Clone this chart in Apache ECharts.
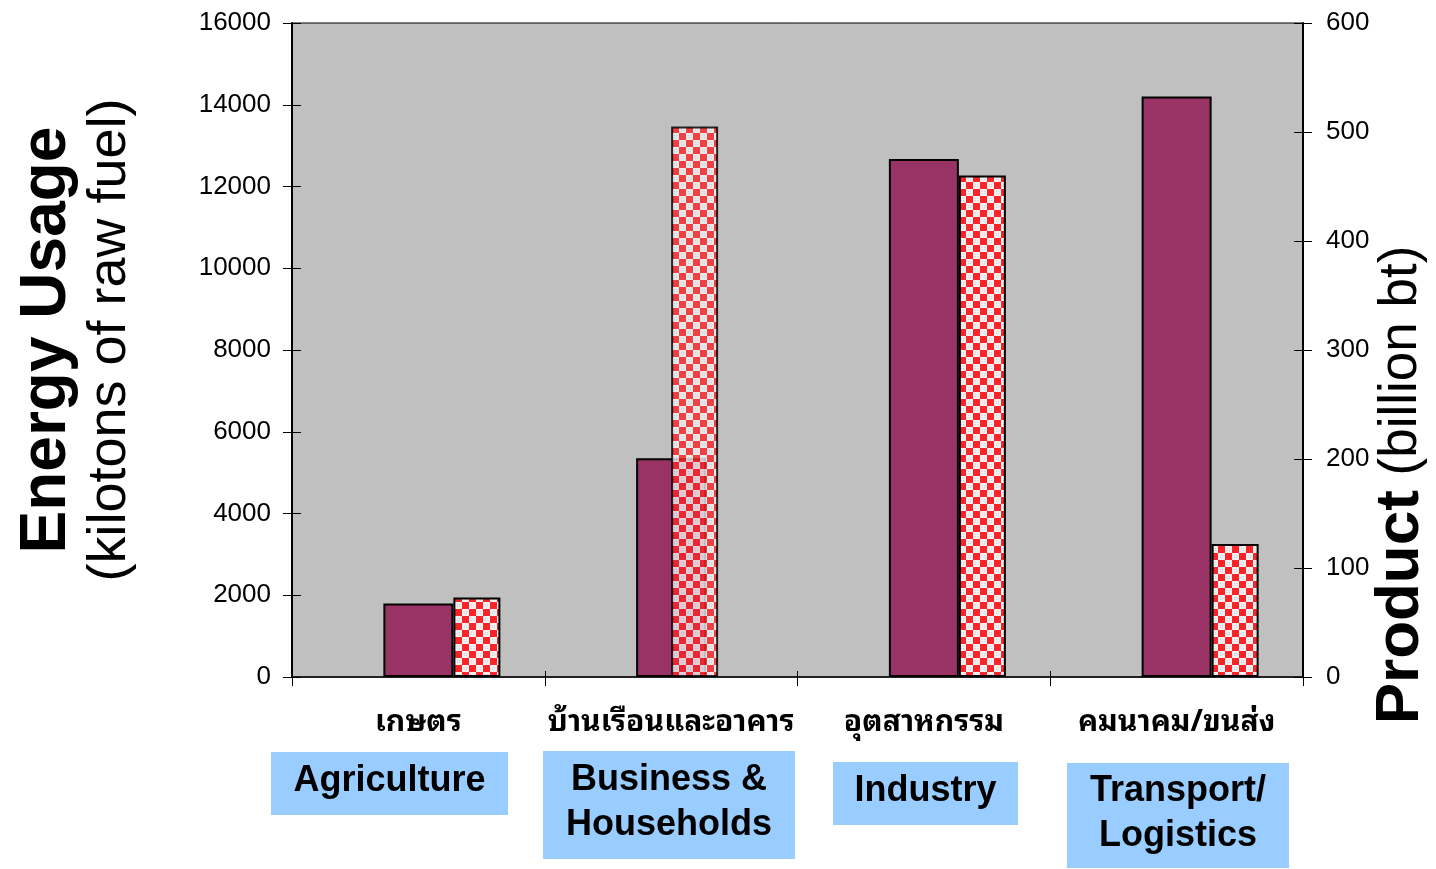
<!DOCTYPE html>
<html>
<head>
<meta charset="utf-8">
<title>Energy Usage and Product by Sector</title>
<script src="https://cdn.jsdelivr.net/npm/echarts@6/dist/echarts.min.js"></script>
<style>
  html, body { margin: 0; padding: 0; background: #ffffff; }
  #chart { width: 1436px; height: 869px; }
</style>
</head>
<body>
<div id="chart"></div>
<script>
// Sector names (Thai axis labels) and their English captions
const sectorsThai = ['เกษตร', 'บ้านเรือนและอาคาร', 'อุตสาหกรรม', 'คมนาคม/ขนส่ง'];
const sectorsEnglish = ['Agriculture', 'Business &\nHouseholds', 'Industry', 'Transport/\nLogistics'];

// Energy usage, kilotons of raw fuel (left axis)
const energyUsage = [1800, 5350, 12670, 14200];
// Product, billion baht (right axis)
const productValue = [73, 505, 460, 122];

// Axis ranges
const energyAxis = { min: 0, max: 16000, interval: 2000 };
const productAxis = { min: 0, max: 600, interval: 100 };

// Sector whose product bar is drawn overlapping its energy bar
const overlapIndex = 1;

// Caption boxes under the axis: [left, top, width, height]
const captionBoxes = [
  [271, 752, 237, 63],
  [543, 751, 252, 108],
  [833, 762, 185, 63],
  [1067, 763, 222, 105]
];

const FONT = '"Liberation Sans", Arial, Helvetica, sans-serif';
const THAI_FONT = '"Noto Sans Thai Looped", "Noto Sans Thai", "Noto Sans Thai UI", Loma, Tahoma, "DejaVu Sans", sans-serif';

function checkerPattern() {
  const c = document.createElement('canvas');
  c.width = 14; c.height = 14;
  const g = c.getContext('2d');
  g.fillStyle = '#f1f1f1';
  g.fillRect(0, 0, 14, 14);
  g.fillStyle = '#d4d4d4';
  for (const [ox, oy] of [[7, 0], [0, 7]]) {
    g.fillRect(ox + 2, oy + 2, 1, 1);
    g.fillRect(ox + 4, oy + 2, 1, 1);
    g.fillRect(ox + 2, oy + 4, 1, 1);
    g.fillRect(ox + 4, oy + 4, 1, 1);
  }
  g.fillStyle = '#fb2428';
  g.fillRect(0, 0, 7, 7);
  g.fillRect(7, 7, 7, 7);
  return c;
}
const checker = { image: checkerPattern(), repeat: 'repeat' };

const blank = sectorsThai.map(() => '-');
const productMain = productValue.map((v, i) => (i === overlapIndex ? '-' : v));
const productOverlap = productValue.map((v, i) => (i === overlapIndex ? v : '-'));

const barBorder = { borderColor: '#000000', borderWidth: 2 };
const plainNumber = (v) => String(v);

const chart = echarts.init(document.getElementById('chart'), null, { renderer: 'canvas' });

const option = {
  animation: false,
  backgroundColor: '#ffffff',
  grid: {
    left: 292, right: 133, top: 23, bottom: 192,
    outerBoundsMode: 'none',
    containLabel: false,
    show: true, backgroundColor: '#c0c0c0', borderColor: '#000000', borderWidth: 1
  },
  xAxis: [
    {
      type: 'category',
      data: sectorsThai,
      axisLine: { lineStyle: { color: '#222222', width: 2 } },
      axisTick: { show: true, length: 9, lineStyle: { color: '#000000', width: 1 } },
      axisLabel: {
        margin: 31,
        color: '#000000',
        fontFamily: THAI_FONT,
        fontWeight: 'bold',
        fontSize: 30,
        interval: 0
      }
    },
    {
      type: 'category',
      data: sectorsThai,
      position: 'bottom',
      axisLine: { show: false },
      axisTick: { show: true, inside: true, length: 6, lineStyle: { color: '#000000', width: 1 } },
      axisLabel: { show: false }
    }
  ],
  yAxis: [
    {
      type: 'value',
      position: 'left',
      min: energyAxis.min, max: energyAxis.max, interval: energyAxis.interval,
      splitLine: { show: false },
      axisLine: { show: true, lineStyle: { color: '#000000', width: 2 } },
      axisTick: { show: true, length: 9, lineStyle: { color: '#000000', width: 1 } },
      axisLabel: { margin: 21, color: '#000000', fontFamily: FONT, fontSize: 26, formatter: plainNumber },
      name: '{b|Energy Usage}\n{r|(kilotons of raw fuel)}',
      nameLocation: 'middle',
      nameRotate: 90,
      nameGap: 152,
      nameMoveOverlap: false,
      nameTextStyle: {
        color: '#000000',
        align: 'center',
        padding: [0, 0, 0, 20],
        rich: {
          b: { fontFamily: FONT, fontWeight: 'bold', fontSize: 64, lineHeight: 66, color: '#000000' },
          r: { fontFamily: FONT, fontSize: 54, lineHeight: 60, color: '#000000' }
        }
      }
    },
    {
      type: 'value',
      position: 'right',
      min: productAxis.min, max: productAxis.max, interval: productAxis.interval,
      splitLine: { show: false },
      axisLine: { show: true, lineStyle: { color: '#000000', width: 2 } },
      axisTick: { show: true, length: 9, lineStyle: { color: '#000000', width: 1 } },
      axisLabel: { margin: 23, color: '#000000', fontFamily: FONT, fontSize: 26, formatter: plainNumber },
      name: '{b|Product}{r|\u00a0(billion bt)}',
      nameLocation: 'middle',
      nameRotate: 90,
      nameGap: 67,
      nameMoveOverlap: false,
      nameTextStyle: {
        color: '#000000',
        padding: [0, 270, 0, 0],
        rich: {
          b: { fontFamily: FONT, fontWeight: 'bold', fontSize: 62, color: '#000000' },
          r: { fontFamily: FONT, fontSize: 53, color: '#000000' }
        }
      }
    },
    {
      type: 'value',
      position: 'left',
      min: energyAxis.min, max: energyAxis.max, interval: energyAxis.interval,
      splitLine: { show: false },
      axisLine: { show: false },
      axisTick: { show: true, inside: true, length: 9, lineStyle: { color: '#000000', width: 1 } },
      axisLabel: { show: false }
    },
    {
      type: 'value',
      position: 'right',
      min: productAxis.min, max: productAxis.max, interval: productAxis.interval,
      splitLine: { show: false },
      axisLine: { show: false },
      axisTick: { show: true, inside: true, length: 9, lineStyle: { color: '#000000', width: 1 } },
      axisLabel: { show: false }
    }
  ],
  series: [
    // empty slot keeps the energy bar centred in its category
    { type: 'bar', xAxisIndex: 0, yAxisIndex: 0, data: blank, barWidth: 47, silent: true },
    {
      name: 'Energy Usage', type: 'bar', xAxisIndex: 0, yAxisIndex: 0,
      data: energyUsage, barWidth: 70,
      itemStyle: Object.assign({ color: '#993366' }, barBorder)
    },
    {
      name: 'Product', type: 'bar', xAxisIndex: 0, yAxisIndex: 1,
      data: productMain, barWidth: 47, barGap: 0,
      itemStyle: Object.assign({ color: checker }, barBorder)
    },
    // product bar of the overlapping sector, laid over the right half of its energy bar
    { type: 'bar', xAxisIndex: 1, yAxisIndex: 1, data: blank, barWidth: 47, silent: true },
    {
      name: 'Product', type: 'bar', xAxisIndex: 1, yAxisIndex: 1,
      data: productOverlap, barWidth: 47, barGap: 0,
      itemStyle: Object.assign({ color: checker, opacity: 0.82 }, barBorder)
    }
  ],
  graphic: sectorsEnglish.map((label, i) => {
    const [x, y, w, h] = captionBoxes[i];
    return {
      type: 'group',
      left: x, top: y,
      children: [
        { type: 'rect', shape: { x: 0, y: 0, width: w, height: h }, style: { fill: '#99ccff' } },
        {
          type: 'text',
          x: w / 2, y: h / 2 - 2,
          style: {
            text: label,
            fill: '#000000',
            font: 'bold 36px ' + FONT,
            lineHeight: 45,
            align: 'center',
            verticalAlign: 'middle'
          }
        }
      ]
    };
  })
};

chart.setOption(option);
</script>
</body>
</html>
